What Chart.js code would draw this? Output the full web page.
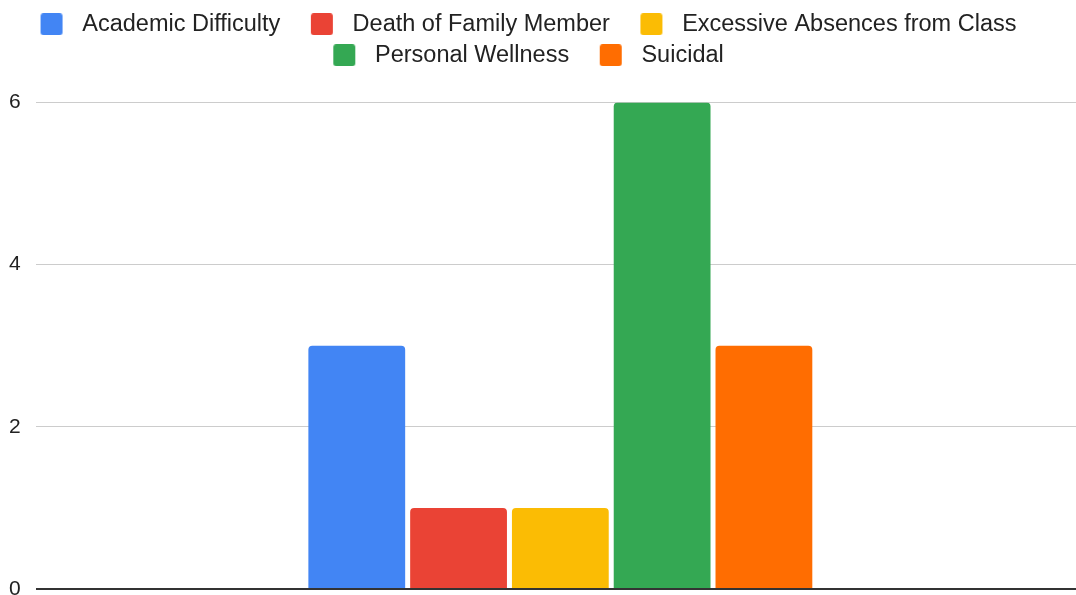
<!DOCTYPE html>
<html>
<head>
<meta charset="utf-8">
<script src="https://cdn.jsdelivr.net/npm/chart.js@4"></script>
<style>
  html, body { margin: 0; padding: 0; background: #fff; }
  #wrap { width: 1076px; height: 595px; }
</style>
</head>
<body>
<div id="wrap"><canvas id="reasonChart"></canvas></div>
<script>
const categories = [''];
const seriesNames = ['Academic Difficulty', 'Death of Family Member', 'Excessive Absences from Class', 'Personal Wellness', 'Suicidal'];
const seriesValues = [[3], [1], [1], [6], [3]];
const seriesColors = ['#4285F4', '#EA4335', '#FBBC04', '#34A853', '#FF6D01'];
const yTicks = [0, 2, 4, 6];

const textColor = '#222222';
const fontFamily = '"Liberation Sans", Arial, sans-serif';

// legend marker: rounded square with some empty room on both sides,
// so the spacing between the items looks like the Sheets legend
function makeMarker(color) {
  const c = document.createElement('canvas');
  c.width = 53;
  c.height = 22;
  const g = c.getContext('2d');
  g.fillStyle = color;
  g.beginPath();
  g.roundRect(23, 0, 22, 22, 3);
  g.fill();
  return c;
}
const markers = seriesColors.map(makeMarker);

// legend takes a fixed height and is nudged sideways a bit;
// the hidden x scale runs a little past the right edge, like in Sheets
const layoutTweak = {
  id: 'layoutTweak',
  beforeInit(chart) {
    const fit = chart.legend.fit;
    chart.legend.fit = function () {
      fit.bind(chart.legend)();
      this.height = 97.5;
    };
  },
  afterLayout(chart) {
    chart.legend.left -= 18;
    chart.legend.right -= 18;
    const x = chart.scales.x;
    x.right += 9;
    x.width += 9;
    x.configure();
  }
};

new Chart(document.getElementById('reasonChart'), {
  type: 'bar',
  data: {
    labels: categories,
    datasets: seriesNames.map((name, i) => ({
      label: name,
      data: seriesValues[i],
      backgroundColor: seriesColors[i],
      borderRadius: { topLeft: 4, topRight: 4 },
      borderSkipped: 'start',
      categoryPercentage: 0.485,
      barPercentage: 0.951,
    })),
  },
  options: {
    responsive: true,
    maintainAspectRatio: false,
    animation: false,
    layout: { padding: { left: -6, right: 0, top: 5, bottom: 6 } },
    plugins: {
      legend: {
        position: 'top',
        labels: {
          color: textColor,
          font: { family: fontFamily, size: 23.5 },
          usePointStyle: true,
          pointStyleWidth: 53,
          padding: 7.5,
          generateLabels(chart) {
            const items = Chart.defaults.plugins.legend.labels.generateLabels(chart);
            items.forEach((it, i) => { it.pointStyle = markers[i]; });
            return items;
          },
        },
      },
      tooltip: { enabled: false },
    },
    scales: {
      x: { display: false },
      y: {
        min: 0,
        max: 6,
        afterBuildTicks(axis) { axis.ticks = yTicks.map(v => ({ value: v })); },
        afterFit(axis) { axis.paddingTop = 0; axis.paddingBottom = 0; },
        border: { display: false },
        ticks: {
          color: textColor,
          padding: 15,
          font: { family: fontFamily, size: 21 },
        },
        grid: {
          drawTicks: false,
          color: ctx => (ctx.tick && ctx.tick.value === 0 ? '#333333' : '#cccccc'),
          lineWidth: ctx => (ctx.tick && ctx.tick.value === 0 ? 2 : 1),
        },
      },
    },
  },
  plugins: [layoutTweak],
});
</script>
</body>
</html>
